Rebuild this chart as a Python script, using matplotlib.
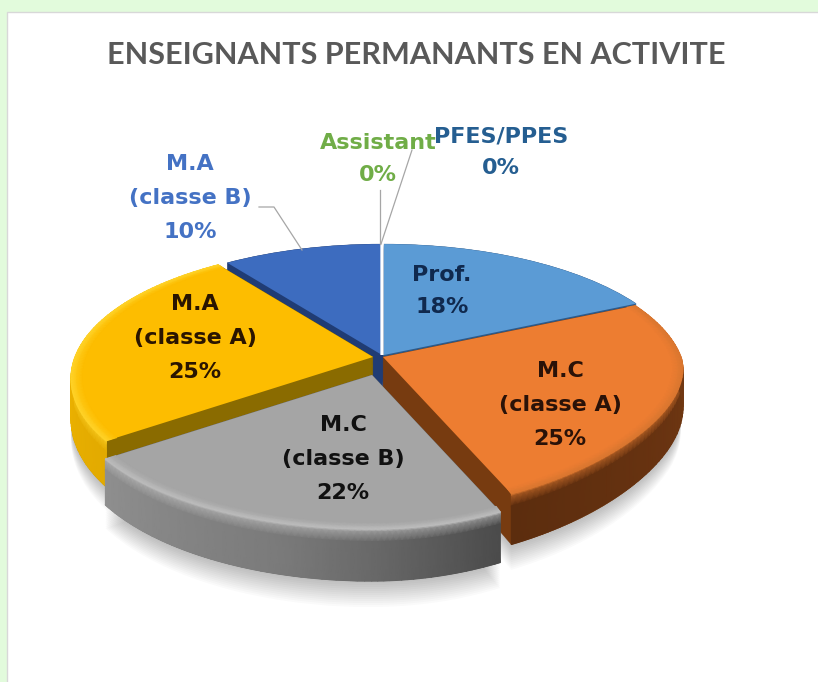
import numpy as np
import matplotlib
matplotlib.use("Agg")
import matplotlib.pyplot as plt
from matplotlib.colors import to_rgb
from matplotlib.patches import PathPatch, Rectangle
from matplotlib.transforms import Transform

# ---- data ----
categories = ["Prof.", "M.C\n(classe A)", "M.C\n(classe B)", "M.A\n(classe A)",
              "M.A\n(classe B)", "Assistant", "PFES/PPES"]
values = [18, 25, 22, 25, 10, 0, 0]
title = "ENSEIGNANTS PERMANANTS EN ACTIVITE"

# ---- style ----
top_colors = ["#5b9bd5", "#ed7d31", "#a5a5a5", "#fdbd00", "#3d6cbf", "#70ad47", "#255e91"]
wall_colors = ["#2d5a8a", "#773b10", "#666666", "#8a6b00", "#203c74", "#ffffff", "#ffffff"]
label_colors = ["#10294e", "#2a1208", "#111111", "#2a1500", "#4472c4", "#70ad47", "#255e91"]
offsets = [(2, 0), (1, 2), (-10, 20), (-9, 2), (0, 0), (0, 0), (0, 0)]
draw_order = [4, 5, 6, 0, 3, 1, 2]
label_pos = [(442, 291), (560, 405), (343, 459), (195, 338), (190, 198), (378, 159), (501, 152)]
label_spacing = [1.75, 1.89, 1.89, 1.89, 1.89, 1.75, 1.75]
rim_style = {
    1: dict(bevel="#d9762f", stops=["#5c2d0e", "#6a3411", "#7d3f13"]),
    2: dict(bevel="#bdbdbd", stops=["#8f8f8f", "#7a7a7a", "#4b4b4b"]),
    3: dict(bevel="#ffd42a", stops=["#f0b400", "#f2b600", "#e2aa00"]),
}

CX, CY = 382, 355          # pie centre on the canvas
A, B, K, Q = 298, 129, 0.163, 0.16  # perspective
D0, D1 = 38, 14            # extrusion depth


class PieMap(Transform):
    """Unit-disk pie -> tilted, extruded pie on the canvas."""
    input_dims = output_dims = 2
    is_separable = False
    has_inverse = False

    def __init__(self, ox=0, oy=0, t=0.0, r=1.0):
        super().__init__()
        self.ox, self.oy, self.t, self.r = ox, oy, t, r

    def transform_non_affine(self, values):
        pts = np.asarray(values, float).reshape(-1, 2) * self.r
        u, v = pts[:, 0], pts[:, 1]
        w = 1 + K * v
        squeeze = np.where((u > 0) & (v < 0), 1 - Q * np.abs(v) ** 1.5, 1.0)
        x = CX + self.ox + A * u / w * squeeze
        y = CY + self.oy - B * v / w + self.t * (D0 - D1 * v)
        return np.column_stack([x, y])


def mesh(unit, ox, oy, rows, zorder):
    X, Y, C = [], [], []
    for r, t, col in rows:
        p = PieMap(ox, oy, t, r).transform_non_affine(unit)
        X.append(p[:, 0])
        Y.append(p[:, 1])
        C.append(col)
    ax.pcolormesh(np.array(X), np.array(Y), np.clip(np.array(C), 0, 1),
                  shading="gouraud", zorder=zorder)


plt.rcParams["font.family"] = ["DejaVu Sans"]
fig = plt.figure(figsize=(8.18, 6.82), dpi=100, facecolor="#e2fbdc")
ax = fig.add_axes([0, 0, 1, 1])

wedges, _ = ax.pie(values, colors=top_colors, startangle=90, counterclock=False, frame=False)
ax.set_aspect("auto")

ax.add_patch(Rectangle((7, 12), 830, 690, facecolor="white", edgecolor="#d8d8d8", lw=1, zorder=0))

for rank, i in enumerate(draw_order):
    wedge = wedges[i]
    ox, oy = offsets[i]
    base = 10 + 10 * rank
    path = wedge.get_path()
    tf = lambda t: PieMap(ox, oy, t) + ax.transData

    if values[i] == 0:
        wedge.set_transform(tf(0))
        wedge.set_edgecolor("white")
        wedge.set_linewidth(2)
        wedge.set_zorder(base + 100)
        continue

    # soft ground shadow
    for t in np.linspace(1.5, 1.0, 14):
        ax.add_patch(PathPatch(path, transform=tf(t), facecolor="black", edgecolor="none",
                               alpha=0.018, zorder=5))
    # extruded body (radial walls)
    for t in np.linspace(1, 0, 45):
        ax.add_patch(PathPatch(path, transform=tf(t), facecolor=wall_colors[i],
                               edgecolor=wall_colors[i], lw=0.3, zorder=base))
    # top face
    wedge.set_transform(tf(0))
    wedge.set_edgecolor("none")
    wedge.set_zorder(base + 1)

    # rim wall (below the face) and bevel (above the face)
    if i in rim_style:
        st = rim_style[i]
        th = np.radians(np.linspace(wedge.theta1, wedge.theta2, 70))
        unit = np.column_stack([np.cos(th), np.sin(th)])
        s = np.linspace(0, 1, th.size)
        stops = np.array([to_rgb(c) for c in st["stops"]])
        wall = np.column_stack([np.interp(s, [0, .5, 1], stops[:, k]) for k in range(3)])
        face = np.tile(to_rgb(top_colors[i]), (th.size, 1))
        bev = np.tile(to_rgb(st["bevel"]), (th.size, 1))
        mesh(unit, ox, oy, [(1.0, 0.0, bev), (1.0, 0.05, bev * .55 + wall * .45),
                            (1.0, 0.24, wall), (1.0, 1.0, wall)], base + 0.5)
        mesh(unit, ox, oy, [(0.965, 0.0, face), (0.985, 0.0, bev * .5 + face * .5),
                            (1.0, 0.0, bev)], base + 2)

# leader lines
leader = dict(color="#a6a6a6", lw=0.9, zorder=300)
ax.plot([259, 274, 302], [207, 207, 250], **leader)
ax.plot([380, 380], [190, 244], **leader)
ax.plot([412, 381], [150, 244], **leader)

# labels
for i, (name, (x, y)) in enumerate(zip(categories, label_pos)):
    ax.text(x, y, f"{name}\n{values[i]}%", ha="center", va="center", fontsize=16,
            fontweight="bold", color=label_colors[i], linespacing=label_spacing[i], zorder=310)

ax.text(416, 55, title, ha="center", va="center", fontsize=22, fontweight="bold",
        family=["Lato", "DejaVu Sans"], color="#595959", zorder=310)

ax.set_xlim(0, 818)
ax.set_ylim(682, 0)
ax.set_axis_off()
fig.savefig("out.png", dpi=100, facecolor=fig.get_facecolor())
